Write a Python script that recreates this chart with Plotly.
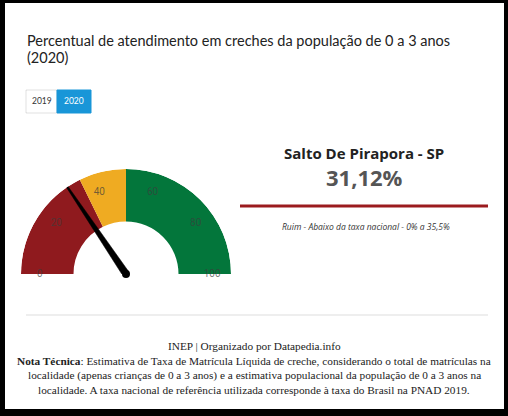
import plotly.graph_objects as go

# ---------------- data ----------------
title_line1 = "Percentual de atendimento em creches da população de 0 a 3 anos"
title_line2 = "(2020)"
years = ["2019", "2020"]
active_year = "2020"
place = "Salto De Pirapora - SP"
value = 31.12
value_label = "31,12%"
status_label = "Ruim - Abaixo da taxa nacional - 0% a 35,5%"
band_names = ["Ruim", "Médio", "Bom"]
band_starts = [0, 35.5, 50]
band_ends = [35.5, 50, 100]
band_colors = ["#8f1a1e", "#efab22", "#03763b"]
tick_label_values = [0, 20, 40, 60, 80, 100]
minor_tick_values = list(range(0, 101, 4))
source_text = "INEP | Organizado por Datapedia.info"
note_lines = [
    "<b>Nota Técnica</b>: Estimativa de Taxa de Matrícula Líquida de creche, considerando o total de matrículas na",
    "localidade (apenas crianças de 0 a 3 anos) e a estimativa populacional da população de 0 a 3 anos na",
    "localidade. A taxa nacional de referência utilizada corresponde à taxa do Brasil na PNAD 2019.",
]

# ---------------- layout helpers ----------------
W, H = 508, 416
DEG = 180.0 / 100.0  # gauge scale: 0..100 -> 0..180 degrees


def px(x):
    return x / W


def py(y):
    return 1 - y / H


# gauge geometry (pixels)
CX, CY, R = 126, 274, 105

fig = go.Figure()

# gauge bands
fig.add_trace(go.Barpolar(
    r=[1] * len(band_starts),
    base=[1] * len(band_starts),
    theta=[(s + e) / 2 * DEG for s, e in zip(band_starts, band_ends)],
    width=[(e - s) * DEG for s, e in zip(band_starts, band_ends)],
    marker=dict(color=band_colors, line=dict(width=0)),
    text=band_names,
    hoverinfo="text",
    showlegend=False,
))

# tick labels inside the band
fig.add_trace(go.Scatterpolar(
    r=[1.64] * len(tick_label_values),
    theta=[v * DEG for v in tick_label_values],
    mode="text",
    text=[str(v) for v in tick_label_values],
    textfont=dict(family="Roboto", size=10, color="rgba(60,60,60,0.7)"),
    cliponaxis=False,
    hoverinfo="skip",
    showlegend=False,
))

# needle
nt = value * DEG
half_base = 0.068
fig.add_trace(go.Scatterpolar(
    r=[half_base, 2, 2, half_base, half_base],
    theta=[nt - 90, nt - 0.5, nt + 0.5, nt + 90, nt - 90],
    mode="lines",
    fill="toself",
    fillcolor="black",
    line=dict(color="black", width=0.5),
    cliponaxis=False,
    hoverinfo="skip",
    showlegend=False,
))
fig.add_trace(go.Scatterpolar(
    r=[0],
    theta=[nt],
    mode="markers",
    marker=dict(color="black", size=8),
    cliponaxis=False,
    hoverinfo="skip",
    showlegend=False,
))

fig.update_layout(
    width=W, height=H,
    margin=dict(l=0, r=0, t=0, b=0),
    paper_bgcolor="white",
    plot_bgcolor="white",
    polar=dict(
        domain=dict(x=[px(CX - R), px(CX + R)], y=[py(CY), py(CY - R)]),
        sector=[0, 180],
        hole=0,
        bgcolor="rgba(0,0,0,0)",
        radialaxis=dict(visible=False, range=[0, 2]),
        angularaxis=dict(
            rotation=180, direction="clockwise",
            showline=False, showgrid=False,
            ticks="inside", ticklen=5, tickwidth=1,
            tickcolor="rgba(255,255,255,0.6)",
            tickmode="array",
            tickvals=[v * DEG for v in minor_tick_values],
            showticklabels=False,
        ),
    ),
)

shapes = []
annotations = []


def label(x, y, text, size, color, family, xanchor="center"):
    annotations.append(dict(x=px(x), y=py(y), xref="paper", yref="paper",
                            xanchor=xanchor, yanchor="middle", text=text, showarrow=False,
                            font=dict(family=family, size=size, color=color)))


# title
label(25, 40, title_line1, 14.5, "#222", "Lato", "left")
label(25, 57, title_line2, 14.5, "#222", "Lato", "left")

# year buttons
btn_x = [(26, 57), (57, 91)]
for yr, (x0, x1) in zip(years, btn_x):
    active = yr == active_year
    shapes.append(dict(type="rect", xref="paper", yref="paper",
                       x0=px(x0), x1=px(x1), y0=py(113), y1=py(90),
                       fillcolor="#1996d8" if active else "white",
                       line=dict(color="#1996d8" if active else "rgba(0,0,0,0.12)", width=1),
                       layer="below"))
    label((x0 + x1) / 2, 101.5, yr, 8.5, "white" if active else "#333", "Lato")

# right panel
label(364, 153, "<b>" + place + "</b>", 15, "#222", "Open Sans")
label(364, 177, "<b>" + value_label + "</b>", 22, "#555", "Open Sans")
shapes.append(dict(type="line", xref="paper", yref="paper", x0=px(240), x1=px(488), y0=py(206), y1=py(206),
                   line=dict(color="#9b1b1e", width=3)))
label(366, 227, "<i>" + status_label + "</i>", 8.5, "#333", "Open Sans")

# footer
shapes.append(dict(type="line", xref="paper", yref="paper", x0=px(26), x1=px(488), y0=py(315), y1=py(315),
                   line=dict(color="#dddddd", width=1)))
label(254, 346, source_text, 11.3, "#222", "Liberation Serif")
for i, line in enumerate(note_lines):
    label(254, 361 + 14.3 * i, line, 11.3, "#222", "Liberation Serif")

# black frame
frame = [(0, 5, 0, H), (504, W, 0, H), (0, W, 0, 3), (0, W, 409, H)]
for x0, x1, y0, y1 in frame:
    shapes.append(dict(type="rect", xref="paper", yref="paper", x0=px(x0), x1=px(x1), y0=py(y1), y1=py(y0),
                       fillcolor="black", line=dict(width=0)))

fig.update_layout(shapes=shapes, annotations=annotations)

fig.write_html("out.html", config={"displayModeBar": False},
               post_script="document.body.style.margin='0';")
